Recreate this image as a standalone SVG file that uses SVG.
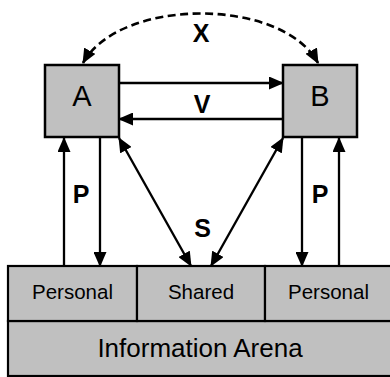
<svg xmlns="http://www.w3.org/2000/svg" width="390" height="377" viewBox="0 0 390 377">
  <style>
    .box { fill: #c0c0c0; stroke: #000; stroke-width: 2.5; }
    .cell { fill: #c0c0c0; stroke: #000; stroke-width: 2.2; }
    .big { font-family: "Liberation Sans", Arial, sans-serif; font-size: 29px; text-anchor: middle; fill: #000; }
    .cap { font-family: "Liberation Sans", Arial, sans-serif; font-size: 20.5px; text-anchor: middle; fill: #000; }
    .lbl { font-family: "Liberation Sans", Arial, sans-serif; font-size: 25px; font-weight: bold; text-anchor: middle; fill: #000; }
    .wire { fill: none; stroke: #000; stroke-width: 2.3; marker-end: url(#head); }
    .both { marker-start: url(#head); }
    .dash { stroke-dasharray: 8 4.5; stroke-width: 2.6; }
  </style>
  <defs>
    <marker id="head" markerUnits="userSpaceOnUse" markerWidth="15" markerHeight="13" refX="14" refY="6.5" orient="auto-start-reverse">
      <path d="M0,0 L15,6.5 L0,13 z" fill="#000"/>
    </marker>
  </defs>

  <!-- information arena at the bottom -->
  <g id="arena">
    <rect class="cell" x="8" y="321" width="384" height="55"/>
    <text class="cap" x="200" y="357" style="font-size:26px">Information Arena</text>
  </g>
  <g id="personal-a">
    <rect class="cell" x="8" y="266" width="129" height="55"/>
    <text class="cap" x="72.5" y="299">Personal</text>
  </g>
  <g id="shared">
    <rect class="cell" x="137" y="266" width="128" height="55"/>
    <text class="cap" x="201" y="299">Shared</text>
  </g>
  <g id="personal-b">
    <rect class="cell" x="265" y="266" width="127" height="55"/>
    <text class="cap" x="328.5" y="299">Personal</text>
  </g>

  <!-- agents -->
  <g id="a">
    <rect class="box" x="45" y="65" width="74" height="72"/>
    <text class="big" x="82" y="106">A</text>
  </g>
  <g id="b">
    <rect class="box" x="283" y="65" width="74" height="72"/>
    <text class="big" x="320" y="106">B</text>
  </g>

  <!-- connectors -->
  <g id="connectors">
    <path class="wire both dash" d="M83,63 C120,-3 282,-3 318,63"/>
    <line class="wire" x1="119" y1="83" x2="283" y2="83"/>
    <line class="wire" x1="283" y1="119" x2="119" y2="119"/>
    <line class="wire" x1="64" y1="266" x2="64" y2="138"/>
    <line class="wire" x1="100" y1="138" x2="100" y2="266"/>
    <line class="wire" x1="302" y1="138" x2="302" y2="266"/>
    <line class="wire" x1="339" y1="266" x2="339" y2="138"/>
    <line class="wire both" x1="119" y1="138" x2="191" y2="266"/>
    <line class="wire both" x1="283" y1="138" x2="211" y2="266"/>
    <text class="lbl" x="201" y="42">X</text>
    <text class="lbl" x="202" y="113">V</text>
    <text class="lbl" x="81" y="203">P</text>
    <text class="lbl" x="320" y="203">P</text>
    <text class="lbl" x="202.5" y="237">S</text>
  </g>
</svg>
